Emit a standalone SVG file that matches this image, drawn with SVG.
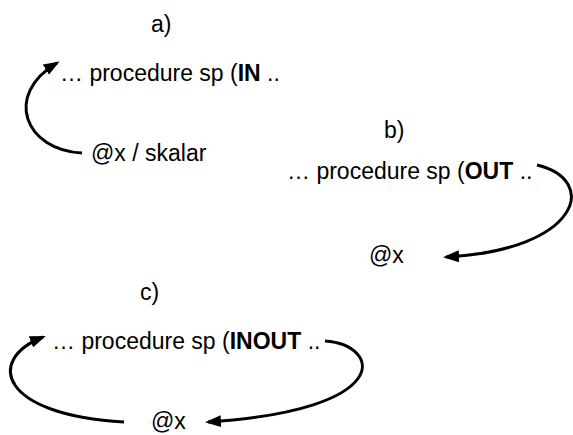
<svg xmlns="http://www.w3.org/2000/svg" width="573" height="435" viewBox="0 0 573 435">
  <style>
    text { font-family: "Liberation Sans", Arial, sans-serif; font-size: 23px; fill: #000; }
    .b { font-weight: bold; }
    .flow { fill: none; stroke: #000; stroke-width: 3; }
  </style>
  <defs>
    <marker id="head" viewBox="0 0 16 12" refX="13" refY="6" markerWidth="16" markerHeight="12" markerUnits="userSpaceOnUse" orient="auto">
      <path d="M0,0 L16,6 L0,12 z" fill="#000"/>
    </marker>
  </defs>

  <!-- case a: IN -->
  <g id="label-a"><text x="151" y="32">a)</text></g>
  <g id="proc-in"><text x="60" y="81">… procedure sp (<tspan class="b">IN</tspan> ..</text></g>
  <g id="var-a"><text x="91" y="161">@x / skalar</text></g>

  <!-- case b: OUT -->
  <g id="label-b"><text x="384" y="138">b)</text></g>
  <g id="proc-out"><text x="287" y="179">… procedure sp (<tspan class="b">OUT</tspan> ..</text></g>
  <g id="var-b"><text x="369" y="263">@x</text></g>

  <!-- case c: INOUT -->
  <g id="label-c"><text x="140" y="300">c)</text></g>
  <g id="proc-inout"><text x="52" y="349">… procedure sp (<tspan class="b">INOUT</tspan> ..</text></g>
  <g id="var-c"><text x="151" y="429">@x</text></g>

  <g id="connectors">
    <path class="flow" marker-end="url(#head)" d="M82,153 C25,150 3,95 57,63"/>
    <path class="flow" marker-end="url(#head)" d="M537,165 C600,180 580,250 446,257"/>
    <path class="flow" marker-end="url(#head)" d="M124,422 C0,415 -15,360 43,337"/>
    <path class="flow" marker-end="url(#head)" d="M325,341 C382,345 395,410 208,422"/>
  </g>
</svg>
